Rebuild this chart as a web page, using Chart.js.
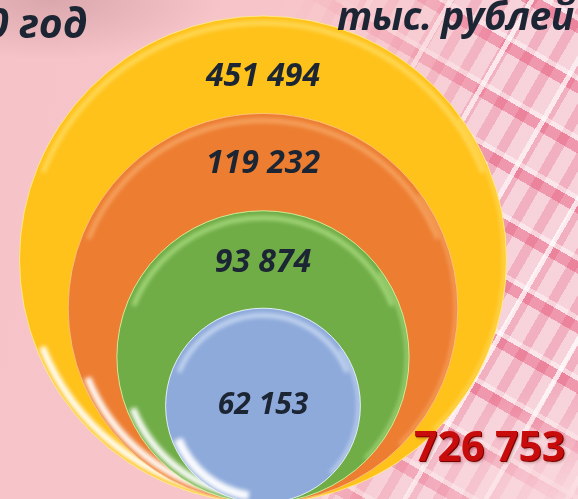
<!DOCTYPE html>
<html lang="ru">
<head>
<meta charset="utf-8">
<script src="https://cdn.jsdelivr.net/npm/chart.js@4.4.1/dist/chart.umd.min.js"></script>
<style>
  html, body { margin: 0; padding: 0; width: 578px; height: 499px; overflow: hidden; }
  body {
    position: relative;
    font-family: "Open Sans", "Noto Sans", sans-serif;
    background:
      radial-gradient(ellipse 170px 60px at 50px 0px, rgba(175,125,130,0.4), rgba(175,125,130,0) 100%),
      radial-gradient(ellipse 200px 110px at 560px 499px, rgba(250,215,220,0.9), rgba(250,215,220,0) 100%),
      linear-gradient(100deg, #f6c4c8 0%, #f7c5c9 42%, rgba(247,197,201,0.6) 60%, rgba(247,197,201,0) 78%),
      repeating-linear-gradient(120deg, rgba(255,255,255,0) 0 38px, rgba(255,255,255,0.75) 38px 43px, rgba(255,255,255,0) 43px 70px),
      repeating-linear-gradient(30deg, rgba(230,60,100,0) 0 16px, rgba(228,64,105,0.4) 16px 27px, rgba(255,255,255,0.45) 27px 32px, rgba(230,60,100,0) 32px 52px),
      repeating-linear-gradient(120deg, rgba(235,120,150,0.3) 0 10px, rgba(255,235,240,0.3) 10px 24px),
      #f4c8d2;
  }
  .cap {
    position: absolute;
    font-weight: 700;
    font-style: italic;
    color: #1c2533;
    white-space: nowrap;
    line-height: 1;
  }
  #year  { left: -14px; top: 2px; font-size: 41px; }
  #units { left: 337px; top: -5px; font-size: 39px; letter-spacing: -0.5px; }
  #total {
    position: absolute; left: 414px; top: 425px;
    font-size: 41px; font-weight: 700; color: #c80c0c; line-height: 1;
    text-shadow: 1px 1px 0 #7a0000, 2px 2px 3px rgba(90,0,0,0.35);
    white-space: nowrap;
  }
  #wrap { position: absolute; left: 0; top: 0; width: 578px; height: 503px; }
</style>
</head>
<body>
<div id="wrap"><canvas id="rings" width="578" height="503"></canvas></div>
<div class="cap" id="year">0 год</div>
<div class="cap" id="units">тыс. рублей</div>
<div id="total"></div>

<script>
// values, outer circle first
const values = [451494, 119232, 93874, 62153];
const colors = ['#ffc21a', '#ed7d31', '#70ad47', '#8eaadb'];
const rims   = ['rgba(255,240,150,0.8)', 'rgba(255,200,140,0.8)', 'rgba(215,255,170,0.8)', 'rgba(235,245,255,0.9)'];
const labelDy = [12, 2, 3, 0];   // nudges of the value labels, px

const total = values.reduce((s, v) => s + v, 0);
const fmt = v => String(v).replace(/\B(?=(\d{3})+(?!\d))/g, ' ');
document.getElementById('total').textContent = fmt(total);

// circles sit on one base point; diameter follows rank (5,4,3,2 axis units)
const diam = values.map((v, i) => values.length + 1 - i);

const datasets = values.map((v, i) => ({
  label: fmt(v),
  data: [{ x: 0, y: diam[i] / 2 }],
  order: values.length - i,
  backgroundColor: colors[i],
  borderColor: rims[i],
  borderWidth: 1,
  clip: false
}));

// glossy edges, drawn right after each circle
const gloss = {
  id: 'gloss',
  afterDatasetDraw(chart, args) {
    const el = args.meta.data[0];
    if (!el || el.options.radius < 10) return;
    const r = el.options.radius, x = el.x, y = el.y;
    const ctx = chart.ctx;
    const i = args.index;
    ctx.save();
    ctx.beginPath();
    ctx.arc(x, y, r, 0, Math.PI * 2);
    ctx.clip();
    ctx.filter = 'blur(2px)';
    // top rim
    ctx.strokeStyle = rims[i];
    ctx.lineWidth = 4;
    ctx.globalAlpha = 0.75;
    ctx.beginPath();
    ctx.arc(x, y, r - 7, Math.PI * 1.12, Math.PI * 1.88);
    ctx.stroke();
    // bright crescent lower left
    ctx.globalAlpha = 1;
    ctx.strokeStyle = 'rgba(255,255,255,0.95)';
    ctx.lineWidth = i === 3 ? 9 : 7;
    ctx.beginPath();
    ctx.arc(x, y, r - 6, Math.PI * 0.55, Math.PI * 0.88);
    ctx.stroke();
    // thin light edge on the right
    ctx.lineWidth = 2;
    ctx.strokeStyle = rims[i];
    ctx.beginPath();
    ctx.arc(x, y, r - 2, -Math.PI * 0.2, Math.PI * 0.25);
    ctx.stroke();
    ctx.restore();
  }
};

// value labels between circle tops
const labels = {
  id: 'labels',
  afterDatasetsDraw(chart) {
    const ctx = chart.ctx;
    const els = values.map((v, i) => chart.getDatasetMeta(i).data[0]);
    ctx.save();
    ctx.fillStyle = '#1c2533';
    ctx.textAlign = 'center';
    ctx.textBaseline = 'middle';
    els.forEach((el, i) => {
      const top = el.y - el.options.radius;
      let ly;
      if (i < els.length - 1) {
        const next = els[i + 1];
        ly = (top + next.y - next.options.radius) / 2;
      } else {
        ly = el.y;
      }
      ctx.font = 'italic 700 ' + (i === els.length - 1 ? 30 : 32) + 'px "Open Sans", sans-serif';
      ctx.fillText(fmt(values[i]), el.x, ly + labelDy[i]);
    });
    ctx.restore();
  }
};

const unit = 97.4;  // px per axis unit
const chart = new Chart(document.getElementById('rings'), {
  type: 'bubble',
  data: { datasets },
  options: {
    responsive: false,
    animation: false,
    events: [],
    layout: { padding: 0, autoPadding: false },
    scales: {
      x: { type: 'linear', display: false, min: -263 / unit, max: (578 - 263) / unit },
      y: { type: 'linear', display: false, min: 0, max: 503 / unit }
    },
    plugins: { legend: { display: false }, tooltip: { enabled: false } }
  },
  plugins: [gloss, labels]
});

// bubble radius is in pixels: take it from the y scale so every circle rests on y = 0
const ys = chart.scales.y;
chart.data.datasets.forEach((ds, i) => {
  ds.data[0].r = ys.getPixelForValue(0) - ys.getPixelForValue(diam[i] / 2);
});
chart.update();
</script>
</body>
</html>
